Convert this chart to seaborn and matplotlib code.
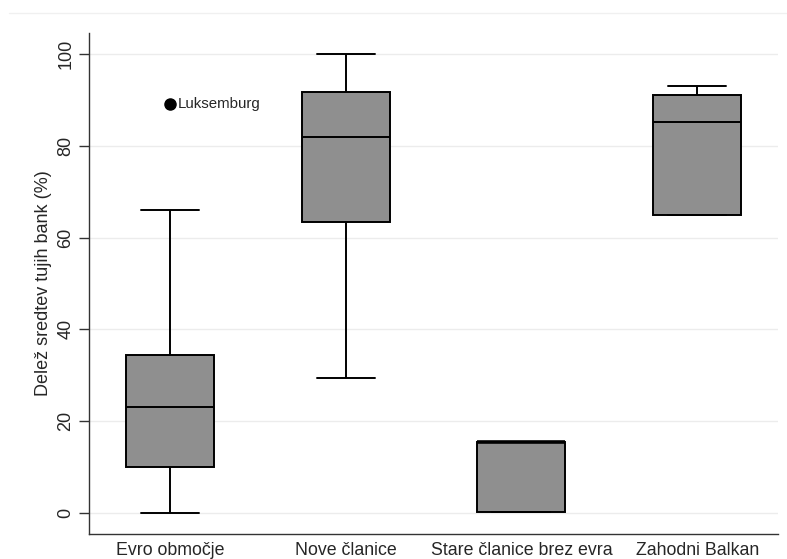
import pandas as pd
import numpy as np
import matplotlib
matplotlib.use("Agg")
import matplotlib.pyplot as plt
import seaborn as sns
from matplotlib.lines import Line2D

# Skupine in vrednosti (delež sredstev tujih bank, %) odčitane s slike
skupine = ["Evro območje", "Nove članice", "Stare članice brez evra", "Zahodni Balkan"]
evro = [0.0, 9.9, 9.9, 23.1, 23.1, 34.5, 34.5, 66.1, 89.1]
nove = [29.5, 63.5, 82.0, 91.8, 100.0]
stare = [0.2, 0.2, 15.5, 15.5, 15.5]
balkan = [65.0, 65.0, 85.2, 91.0, 93.0]
osamelec_ime = "Luksemburg"
y_ticks = [0, 20, 40, 60, 80, 100]

vrednosti = [evro, nove, stare, balkan]
df = pd.DataFrame({
    "skupina": np.repeat(skupine, [len(v) for v in vrednosti]),
    "delez": np.concatenate(vrednosti),
})

sns.set_style("white")
plt.rcParams["font.family"] = ["Liberation Sans", "DejaVu Sans"]

fig = plt.figure(figsize=(7.87, 5.59), dpi=100)
ax = fig.add_axes([0.1131, 0.0447, 0.8755, 0.8963])

sns.boxplot(data=df, x="skupina", y="delez", order=skupine, color="#8f8f8f",
            saturation=1, width=0.5, linecolor="black", linewidth=1.4,
            flierprops=dict(marker="o", markerfacecolor="black",
                            markeredgecolor="black", markersize=8),
            ax=ax)

# ozje kapice brkov kot v Stati
for ln in ax.lines:
    xd = np.asarray(ln.get_xdata(), dtype=float)
    yd = np.asarray(ln.get_ydata(), dtype=float)
    if len(xd) == 2 and yd[0] == yd[1] and abs((xd[1] - xd[0]) - 0.25) < 1e-6:
        c = xd.mean()
        ln.set_xdata([c - 0.165, c + 0.165])
    # mediana, ki sovpada z robom škatle, je v Stati debelejša
    if len(xd) == 2 and yd[0] == yd[1] and abs((xd[1] - xd[0]) - 0.5) < 1e-6:
        if yd[0] == max(stare):
            ln.set_linewidth(2.6)

# oznaka osamelca
ax.annotate(osamelec_ime, xy=(0, max(evro)), xytext=(6, 0),
            textcoords="offset points", va="center", ha="left", fontsize=10.8)

ax.set_xlim(-0.46, 3.46)
ax.set_ylim(-4.6, 104.6)
ax.set_yticks(y_ticks)
ax.set_yticklabels([str(t) for t in y_ticks], rotation=90, va="center")
ax.grid(axis="y", color="#ececec", linewidth=1)
ax.set_axisbelow(True)

ax.set_xlabel("")
ax.set_ylabel("Delež sredtev tujih bank (%)", fontsize=13, labelpad=4)
ax.tick_params(axis="y", left=True, length=7, width=1, color="#333333",
               labelsize=13, pad=3.5)
ax.tick_params(axis="x", bottom=False, labelsize=12.8, pad=2)

for s in ["top", "right"]:
    ax.spines[s].set_visible(False)
for s in ["left", "bottom"]:
    ax.spines[s].set_color("#333333")
    ax.spines[s].set_linewidth(1)

# tanka zgornja črta okvirja grafa
fig.add_artist(Line2D([0.012, 1.0], [0.977, 0.977], color="#f0f0f0",
                      linewidth=1, transform=fig.transFigure))

fig.savefig("out.png", dpi=100)
